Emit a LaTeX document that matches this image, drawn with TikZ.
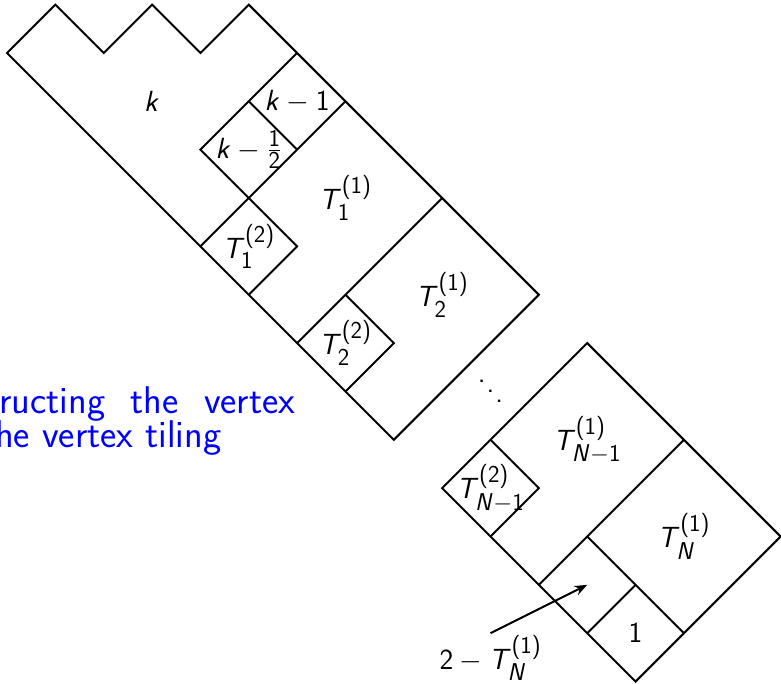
\documentclass[tikz,border=0pt]{standalone}
\usepackage{amsmath}
\usetikzlibrary{arrows.meta}
\DeclareMathAlphabet{\mathsfit}{OT1}{cmss}{m}{sl}
\SetSymbolFont{operators}{normal}{OT1}{cmss}{m}{n}
\DeclareMathSizes{21}{21}{16}{12}
\newcommand{\sT}{\mathsfit{T}}
\newcommand{\sN}{\mathsfit{N}}
\newcommand{\sk}{\mathsfit{k}}
\tikzset{
  lab/.style={font=\fontsize{21}{25}\selectfont\sffamily, inner sep=0pt},
  bluetext/.style={font=\fontsize{27.5}{33}\selectfont\sffamily, text=blue, inner sep=0pt, anchor=base west},
  tile/.style={line width=1.4pt, line join=miter},
  pointer/.style={line width=1.4pt, -{Stealth[length=9pt,width=7pt]}}
}
\begin{document}
\begin{tikzpicture}[x={(1.20875cm,-1.20875cm)}, y={(1.20875cm,1.20875cm)}]
\useasboundingbox (-0.175cm,-15.775cm) rectangle (19.35cm,1.325cm);
\clip (-0.175cm,-15.775cm) rectangle (19.35cm,1.325cm);

% first block
\draw[tile] (0,0) -- (0,1) -- (1,1) -- (1,2) -- (2,2) -- (2,3) -- (8,3) -- (8,0) -- cycle;
\draw[tile] (3,3) -- (3,1) -- (4,1);
\draw[tile] (3,2) -- (4,2);
\draw[tile] (4,0) -- (4,3);
\draw[tile] (4,1) -- (5,1) -- (5,0);
\draw[tile] (6,0) -- (6,3);
\draw[tile] (6,1) -- (7,1) -- (7,0);

% second block
\draw[tile] (9,0) -- (9,3) -- (13,3) -- (13,0) -- cycle;
\draw[tile] (9,1) -- (10,1) -- (10,0);
\draw[tile] (11,0) -- (11,3);
\draw[tile] (11,1) -- (13,1);
\draw[tile] (12,0) -- (12,1);

% labels
\node[lab] (lk) at (2,1) {$\sk$};
\node[lab] (lkm1) at (3.5,2.5) {$\sk-1$};
\node[lab] (lkmh) at (3.5,1.5) {$\sk-\frac{1}{2}$};
\node[lab] (t11) at (5,2) {$\sT_1^{(1)}$};
\node[lab] (t12) at (4.5,0.5) {$\sT_1^{(2)}$};
\node[lab] (t21) at (7,2) {$\sT_2^{(1)}$};
\node[lab] (t22) at (6.5,0.5) {$\sT_2^{(2)}$};
\node[lab] (dd) at (8.5,1.5) {\raisebox{14.2pt}{.}\kern0.8pt\raisebox{7.1pt}{.}\kern0.8pt.};
\node[lab] (tn11) at (10,2) {$\sT_{\sN-1}^{(1)}$};
\node[lab] (tn12) at (9.5,0.5) {$\sT_{\sN-1}^{(2)}$};
\node[lab] (tn1) at (12,2) {$\sT_{\sN}^{(1)}$};
\node[lab] (one) at (12.5,0.5) {$1$};

% arrow
\coordinate (arrS) at (11,-1);
\coordinate (arrT) at (11.5,0.5);
\draw[pointer] (arrS) -- (arrT);
\node[lab, anchor=base] (two) at ([yshift=-0.9cm]arrS) {$2-\sT_{\sN}^{(1)}$};

% blue text
\node[bluetext] (para1) at (-0.2cm,-9.0cm) {\makebox[7.4cm][s]{ructing the vertex}};
\node[bluetext] (para2) at (-0.3cm,-9.85cm) {he vertex tiling};
\end{tikzpicture}
\end{document}
